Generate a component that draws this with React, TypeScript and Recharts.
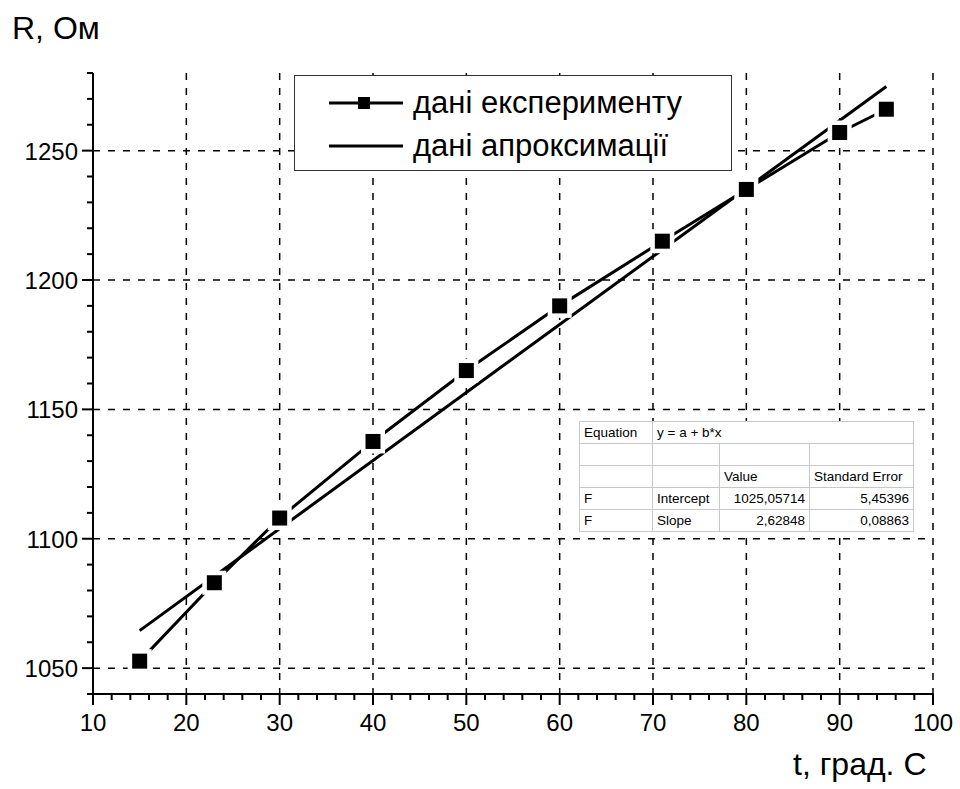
import React from "react";
import { LineChart, Line, XAxis, YAxis, CartesianGrid } from "recharts";

const expX = [15, 23, 30, 40, 50, 60, 71, 80, 90, 95];
const expR = [1052.7, 1083, 1108, 1137.6, 1165, 1190, 1215, 1235, 1257, 1266];
const fitX = [15, 95];
const fitR = [1064.5, 1274.8];

const xMajor = [10, 20, 30, 40, 50, 60, 70, 80, 90, 100];
const yMajor = [1050, 1100, 1150, 1200, 1250];
const xMinor = [10, 12, 14, 16, 18, 20, 22, 24, 26, 28, 30, 32, 34, 36, 38, 40, 42, 44, 46, 48, 50, 52, 54, 56, 58, 60, 62, 64, 66, 68, 70, 72, 74, 76, 78, 80, 82, 84, 86, 88, 90, 92, 94, 96, 98, 100];
const yMinor = [1040, 1050, 1060, 1070, 1080, 1090, 1100, 1110, 1120, 1130, 1140, 1150, 1160, 1170, 1180, 1190, 1200, 1210, 1220, 1230, 1240, 1250, 1260, 1270, 1280];

const tableRows = [
  ["F", "Intercept", "1025,05714", "5,45396"],
  ["F", "Slope", "2,62848", "0,08863"],
];

const expData = expX.map((x, i) => ({ x, r: expR[i] }));
const fitData = fitX.map((x, i) => ({ x, r: fitR[i] }));

const FONT = "'Liberation Sans', Arial, sans-serif";

const XTick = (props: any) => {
  const { x, y, payload } = props;
  const major = xMajor.includes(payload.value);
  return (
    <g>
      <line x1={x} y1={y} x2={x} y2={y + (major ? 11 : 6)} stroke="#000" strokeWidth={2} />
      {major && (
        <text x={x} y={y + 37} textAnchor="middle" fontSize={24} fontFamily={FONT} fill="#000">
          {payload.value}
        </text>
      )}
    </g>
  );
};

const YTick = (props: any) => {
  const { x, y, payload } = props;
  const major = yMajor.includes(payload.value);
  return (
    <g>
      <line x1={x} y1={y} x2={x - (major ? 11 : 6)} y2={y} stroke="#000" strokeWidth={2} />
      {major && (
        <text x={x - 15} y={y + 9} textAnchor="end" fontSize={24} fontFamily={FONT} fill="#000">
          {payload.value}
        </text>
      )}
    </g>
  );
};

const SquareDot = (props: any) => {
  const { cx, cy, index } = props;
  if (cx == null || cy == null) return <g key={index} />;
  return (
    <g key={index}>
      <rect x={cx - 12} y={cy - 12} width={24} height={24} fill="#fff" />
      <rect x={cx - 7.5} y={cy - 7.5} width={15} height={15} fill="#000" />
    </g>
  );
};

const cell: React.CSSProperties = {
  border: "1px solid #c8c8c8",
  padding: "0 4px",
  height: 21,
  fontSize: 13.5,
  fontFamily: FONT,
  whiteSpace: "nowrap",
  overflow: "hidden",
};

export default function App() {
  return (
    <div style={{ position: "absolute", left: 0, top: 0, width: 960, height: 789, background: "#fff" }}>
      <LineChart width={960} height={789} margin={{ top: 73, right: 27, bottom: 0, left: 0 }}>
        <CartesianGrid
          stroke="#000"
          strokeWidth={1.5}
          strokeDasharray="7 8"
          horizontalValues={yMajor}
          verticalValues={xMajor}
        />
        <XAxis
          xAxisId="top"
          orientation="top"
          type="number"
          dataKey="x"
          domain={[10, 100]}
          height={0}
          tick={false}
          tickLine={false}
          axisLine={{ stroke: "#000", strokeWidth: 2 }}
        />
        <XAxis
          type="number"
          dataKey="x"
          domain={[10, 100]}
          ticks={xMinor}
          interval={0}
          height={95}
          tickSize={0}
          tickMargin={0}
          tickLine={false}
          tick={<XTick />}
          axisLine={{ stroke: "#000", strokeWidth: 2 }}
        />
        <YAxis
          yAxisId="right"
          orientation="right"
          type="number"
          domain={[1040, 1280]}
          width={0}
          tick={false}
          tickLine={false}
          axisLine={{ stroke: "#000", strokeWidth: 2 }}
        />
        <YAxis
          type="number"
          domain={[1040, 1280]}
          ticks={yMinor}
          interval={0}
          width={93}
          tickSize={0}
          tickMargin={0}
          tickLine={false}
          tick={<YTick />}
          axisLine={{ stroke: "#000", strokeWidth: 2 }}
        />
        <Line
          data={expData}
          dataKey="r"
          type="linear"
          stroke="#000"
          strokeWidth={3}
          dot={<SquareDot />}
          activeDot={false}
          isAnimationActive={false}
        />
        <Line
          data={fitData}
          dataKey="r"
          type="linear"
          stroke="#000"
          strokeWidth={3}
          dot={false}
          activeDot={false}
          isAnimationActive={false}
        />
      </LineChart>

      <div style={{ position: "absolute", left: 12, top: 10, fontSize: 32, fontFamily: FONT, color: "#000" }}>R, Ом</div>
      <div style={{ position: "absolute", left: 793, top: 746, fontSize: 32, fontFamily: FONT, color: "#000" }}>t, град. C</div>

      <div
        style={{
          position: "absolute",
          left: 294,
          top: 75,
          width: 436,
          height: 94,
          border: "1px solid #333",
          background: "#fff",
          fontFamily: FONT,
          fontSize: 31,
          color: "#000",
        }}
      >
        <div style={{ position: "absolute", left: 34, top: 9, display: "flex", alignItems: "center" }}>
          <svg width={74} height={20}>
            <line x1={0} y1={10} x2={74} y2={10} stroke="#000" strokeWidth={3} />
            <rect x={29} y={4} width={12} height={12} fill="#000" />
          </svg>
          <span style={{ marginLeft: 10 }}>дані експерименту</span>
        </div>
        <div style={{ position: "absolute", left: 34, top: 52, display: "flex", alignItems: "center" }}>
          <svg width={74} height={20}>
            <line x1={0} y1={10} x2={74} y2={10} stroke="#000" strokeWidth={3} />
          </svg>
          <span style={{ marginLeft: 10 }}>дані апроксимації</span>
        </div>
      </div>

      <table
        style={{
          position: "absolute",
          left: 579,
          top: 421,
          width: 334,
          borderCollapse: "collapse",
          border: "1px solid #333",
          background: "#fff",
          tableLayout: "fixed",
        }}
      >
        <colgroup>
          <col style={{ width: 73 }} />
          <col style={{ width: 67 }} />
          <col style={{ width: 90 }} />
          <col style={{ width: 104 }} />
        </colgroup>
        <tbody>
          <tr>
            <td style={cell}>Equation</td>
            <td style={cell} colSpan={3}>y = a + b*x</td>
          </tr>
          <tr>
            <td style={cell}></td>
            <td style={cell}></td>
            <td style={cell}></td>
            <td style={cell}></td>
          </tr>
          <tr>
            <td style={cell}></td>
            <td style={cell}></td>
            <td style={cell}>Value</td>
            <td style={cell}>Standard Error</td>
          </tr>
          {tableRows.map((row, i) => (
            <tr key={i}>
              <td style={cell}>{row[0]}</td>
              <td style={cell}>{row[1]}</td>
              <td style={{ ...cell, textAlign: "right" }}>{row[2]}</td>
              <td style={{ ...cell, textAlign: "right" }}>{row[3]}</td>
            </tr>
          ))}
        </tbody>
      </table>
    </div>
  );
}
